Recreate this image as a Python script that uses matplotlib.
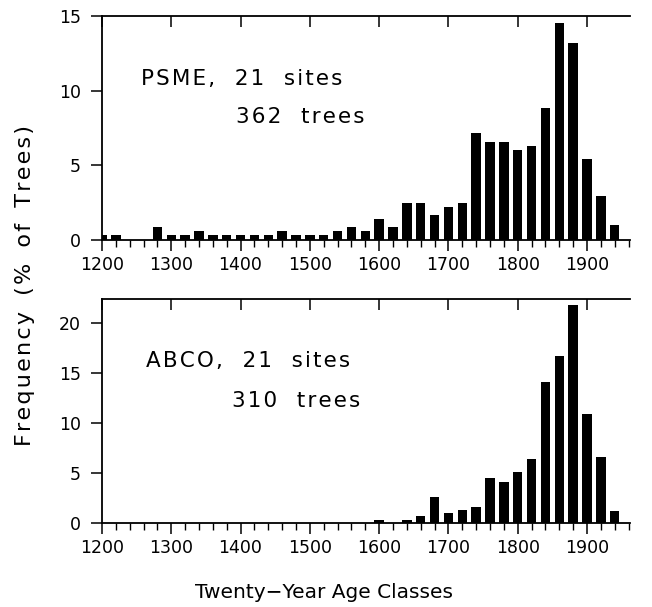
import numpy as np
import matplotlib
matplotlib.use("Agg")
import matplotlib.pyplot as plt
from matplotlib.ticker import MultipleLocator

# twenty-year age classes (class start year)
years = list(range(1200, 1960, 20))

# PSME, % of trees per class
psme = [0.28, 0.28, 0.0, 0.0, 0.83, 0.28, 0.28, 0.55, 0.28, 0.28,
        0.28, 0.28, 0.28, 0.55, 0.28, 0.28, 0.28, 0.55, 0.83, 0.55,
        1.35, 0.83, 2.45, 2.45, 1.62, 2.2, 2.45, 7.15, 6.55, 6.55,
        6.0, 6.25, 8.8, 14.55, 13.2, 5.4, 2.95, 0.97]

# ABCO, % of trees per class
abco = [0.0] * 20 + [0.28, 0.0, 0.3, 0.65, 2.55, 0.95, 1.25, 1.6,
                     4.45, 4.1, 5.1, 6.35, 14.1, 16.65, 21.8, 10.85,
                     6.6, 1.15]

psme_ticks = [0, 5, 10, 15]
abco_ticks = [0, 5, 10, 15, 20]
year_ticks = list(range(1200, 2000, 100))


def spaced(s, gap=" \u2009"):
    # the original lettering is widely tracked
    return "\u200a".join(s).replace(" ", gap)


fig = plt.figure(figsize=(6.52, 6.07), dpi=100)
ax1 = fig.add_axes([0.1564, 0.6054, 0.8098, 0.3682])
ax2 = fig.add_axes([0.1564, 0.1389, 0.8098, 0.3685])


def style(ax, vals, yticks, ytop):
    ax.bar(years, vals, width=13.5, color="black", zorder=2)
    ax.set_xlim(1200, 1962)
    ax.set_ylim(0, ytop)
    ax.set_yticks(yticks)
    ax.set_xticks(year_ticks)
    ax.xaxis.set_minor_locator(MultipleLocator(20))
    ax.spines["right"].set_visible(False)
    ax.spines["top"].set_visible(False)
    for s in ["left", "bottom"]:
        ax.spines[s].set_linewidth(1.3)
    ax.tick_params(axis="x", which="major", direction="out", length=8,
                   width=1.1, pad=4, labelsize=12.5)
    ax.tick_params(axis="x", which="minor", direction="out", length=5,
                   width=1.0)
    ax.tick_params(axis="y", direction="out", length=8, width=1.1, pad=7,
                   labelsize=12.5)
    top = ax.secondary_xaxis("top")
    top.set_xticks(year_ticks)
    top.tick_params(direction="in", length=8, width=1.1, labeltop=False)
    top.spines["top"].set_linewidth(1.3)


style(ax1, psme, psme_ticks, 15)
style(ax2, abco, abco_ticks, 22.4)

wide = " \u2009\u2009"
ax1.text(1257, 10.37, spaced("PSME, 21 sites", wide), fontsize=15.5)
ax1.text(1393, 7.82, spaced("362 trees", wide), fontsize=15.5)
ax2.text(1264, 15.6, spaced("ABCO, 21 sites", wide), fontsize=15.5)
ax2.text(1387, 11.6, spaced("310 trees", wide), fontsize=15.5)

fig.text(0.497, 0.0148, "Twenty\u2212Year Age Classes", fontsize=14.5,
         ha="center", va="baseline")
fig.text(0.038, 0.529, spaced("Frequency (% of Trees)"), fontsize=16,
         rotation=90, ha="center", va="center")

fig.savefig("out.png", dpi=100)
